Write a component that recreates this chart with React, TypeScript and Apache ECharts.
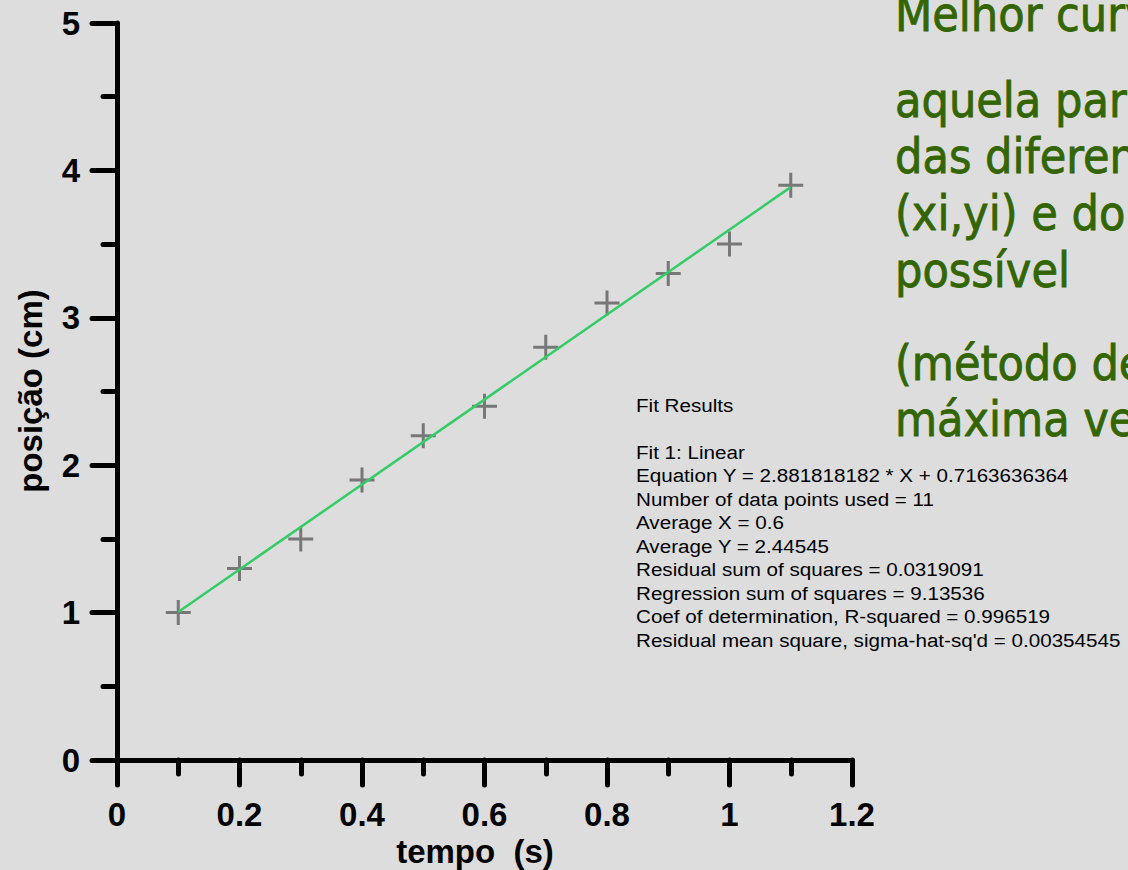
import React, { useEffect, useRef } from "react";
import * as echarts from "echarts";

// Measured positions (cm) at each time (s)
const tempo = [0.1, 0.2, 0.3, 0.4, 0.5, 0.6, 0.7, 0.8, 0.9, 1.0, 1.1];
const posicao = [1.0, 1.3, 1.5, 1.9, 2.2, 2.4, 2.8, 3.1, 3.3, 3.5, 3.9];

// Linear fit coefficients
const fitSlope = 2.881818182;
const fitIntercept = 0.7163636364;

// Fit statistics box
const fitResults = [
  "Fit Results",
  "",
  "Fit 1: Linear",
  `Equation Y = ${fitSlope} * X + ${fitIntercept}`,
  "Number of data points used = 11",
  "Average X = 0.6",
  "Average Y = 2.44545",
  "Residual sum of squares = 0.0319091",
  "Regression sum of squares = 9.13536",
  "Coef of determination, R-squared = 0.996519",
  "Residual mean square, sigma-hat-sq'd = 0.00354545",
];

// Side note text, one entry per line with its baseline
const noteLines: [string, number][] = [
  ["Melhor curva:", 31],
  ["aquela para a qual a soma", 117],
  ["das diferenças entre os pontos", 173],
  ["(xi,yi) e do ajuste seja a menor", 230],
  ["possível", 287],
  ["(método de", 380],
  ["máxima verossimilhança)", 436],
];

const xTitle = "tempo  (s)";
const yTitle = "posição (cm)";

const plusPath = "path://M11,0h3v25h-3z M0,11h25v3h-25z";

export default function App() {
  const ref = useRef<HTMLDivElement>(null);

  useEffect(() => {
    if (!ref.current) return;
    const chart = echarts.init(ref.current, undefined, { renderer: "svg" });

    const fitXs = [Math.min(...tempo), Math.max(...tempo)];
    const fitLine = fitXs.map((x) => [x, fitSlope * x + fitIntercept]);

    const axisFont = {
      fontSize: 33,
      fontWeight: "bold" as const,
      color: "#000",
      fontFamily: "Liberation Sans, Arial, sans-serif",
    };

    const graphics: any[] = [];
    graphics.push({
      type: "text",
      x: 475,
      y: 851,
      style: {
        text: xTitle,
        fill: "#000",
        font: `bold 33px "Liberation Sans", Arial, sans-serif`,
        align: "center",
        verticalAlign: "middle",
      },
    });
    graphics.push({
      type: "text",
      x: 30,
      y: 391,
      rotation: Math.PI / 2,
      style: {
        text: yTitle,
        fill: "#000",
        font: `bold 33px "Liberation Sans", Arial, sans-serif`,
        align: "center",
        verticalAlign: "middle",
      },
    });
    fitResults.forEach((line, i) => {
      if (!line) return;
      graphics.push({
        type: "text",
        x: 636,
        y: 405 + i * 23.5,
        scaleX: 1.085,
        style: {
          text: line,
          fill: "#000",
          font: `19px "Liberation Sans", Arial, sans-serif`,
          align: "left",
          verticalAlign: "middle",
        },
      });
    });
    noteLines.forEach(([line, base]) => {
      graphics.push({
        type: "text",
        x: 895,
        y: base - 16.6,
        style: {
          text: line,
          fill: "#336600",
          stroke: "#336600",
          lineWidth: 0.8,
          font: `48px "DejaVu Sans Condensed", "DejaVu Sans", sans-serif`,
          align: "left",
          verticalAlign: "middle",
        },
      });
    });

    const axisLine = {
      show: true,
      onZero: false,
      lineStyle: { color: "#000", width: 5, cap: "round" as const },
    };
    const majorTick = {
      show: true,
      length: 25,
      lineStyle: { color: "#000", width: 5, cap: "round" },
    };
    const minorTick = {
      show: true,
      splitNumber: 2,
      length: 14,
      lineStyle: { color: "#000", width: 5, cap: "round" },
    };

    chart.setOption({
      animation: false,
      backgroundColor: "#dddddd",
      grid: { left: 117, right: 276, top: 23, bottom: 110, containLabel: false },
      xAxis: {
        type: "value",
        min: 0,
        max: 1.2,
        interval: 0.2,
        axisLine,
        axisTick: majorTick,
        minorTick,
        axisLabel: { ...axisFont, margin: 38 },
        splitLine: { show: false },
        minorSplitLine: { show: false },
      },
      yAxis: {
        type: "value",
        min: 0,
        max: 5,
        interval: 1,
        axisLine,
        axisTick: majorTick,
        minorTick,
        axisLabel: { ...axisFont, margin: 37 },
        splitLine: { show: false },
        minorSplitLine: { show: false },
      },
      series: [
        {
          type: "scatter",
          data: tempo.map((t, i) => [t, posicao[i]]),
          symbol: plusPath,
          symbolSize: 25,
          itemStyle: { color: "#5e5e5e" },
          z: 2,
        },
        {
          type: "line",
          data: fitLine,
          showSymbol: false,
          symbol: "none",
          lineStyle: { color: "#33cc66", width: 2.5 },
          z: 3,
        },
      ],
      graphic: graphics,
    });

    return () => chart.dispose();
  }, []);

  return (
    <div
      ref={ref}
      style={{ position: "fixed", left: 0, top: 0, width: 1128, height: 870 }}
    />
  );
}
